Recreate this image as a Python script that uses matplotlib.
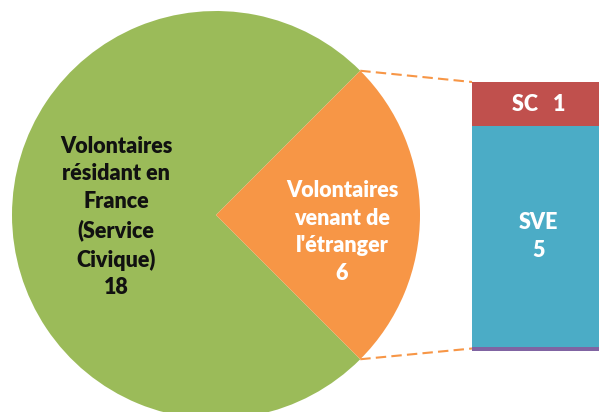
import matplotlib
matplotlib.use("Agg")
import matplotlib.pyplot as plt
import numpy as np

# Data
pie_labels = ["Volontaires\nrésidant en\nFrance\n(Service\nCivique)\n18",
              "Volontaires\nvenant de\nl'étranger\n6"]
pie_values = [18, 6]
pie_colors = ["#9BBB59", "#F79646"]

bar_labels = ["", "SVE\n5", "SC   1"]
bar_values = [0.09, 5, 1]          # bottom to top
bar_colors = ["#8064A2", "#4BACC6", "#C0504D"]

W, H = 599, 412
fig = plt.figure(figsize=(W / 100, H / 100), dpi=100)
fig.patch.set_facecolor("white")

ax = fig.add_axes([0, 0, 1, 1])
cx, cy, r = 216, H - 215, 204
wedges, _ = ax.pie(pie_values, colors=pie_colors, startangle=45, counterclock=True,
                   center=(cx, cy), radius=r, frame=True,
                   wedgeprops=dict(linewidth=0))
ax.set_xlim(0, W)
ax.set_ylim(0, H)
ax.set_aspect("equal")
ax.axis("off")

font = ["Lato", "DejaVu Sans"]
FS = 15.5
LS = 1.4
ax.text(116, H - 217, pie_labels[0], ha="center", va="center", fontsize=FS,
        fontweight="heavy", color="#111111", family=font, linespacing=LS)
ax.text(342, H - 232, pie_labels[1], ha="center", va="center", fontsize=FS,
        fontweight="heavy", color="white", family=font, linespacing=LS)

# bar axes
bx0, btop, bbot, bw = 472, 82, 351, 130
ax2 = fig.add_axes([bx0 / W, (H - bbot) / H, bw / W, (bbot - btop) / H])
ax2.set_xlim(-0.5, 0.5)
ax2.set_ylim(0, sum(bar_values))
ax2.axis("off")
bottom = 0
for lab, v, c in zip(bar_labels, bar_values, bar_colors):
    ax2.bar(0, v, width=1, bottom=bottom, color=c, linewidth=0)
    if lab:
        ax2.text(0.01, bottom + v / 2, lab, ha="center", va="center", fontsize=FS,
                 fontweight="heavy", color="white", family=font, linespacing=LS)
    bottom += v

# connector lines
a = np.deg2rad(45)
p_top = (cx + r * np.cos(a), cy + r * np.sin(a))
p_bot = (cx + r * np.cos(-a), cy + r * np.sin(-a))
ax.plot([p_top[0], bx0], [p_top[1], H - btop], ls=(0, (5, 2.5)), color="#F79646", lw=1.5)
ax.plot([p_bot[0], bx0], [p_bot[1], H - 348.5], ls=(0, (5, 2.5)), color="#F79646", lw=1.5)

fig.savefig("out.png", dpi=100)
